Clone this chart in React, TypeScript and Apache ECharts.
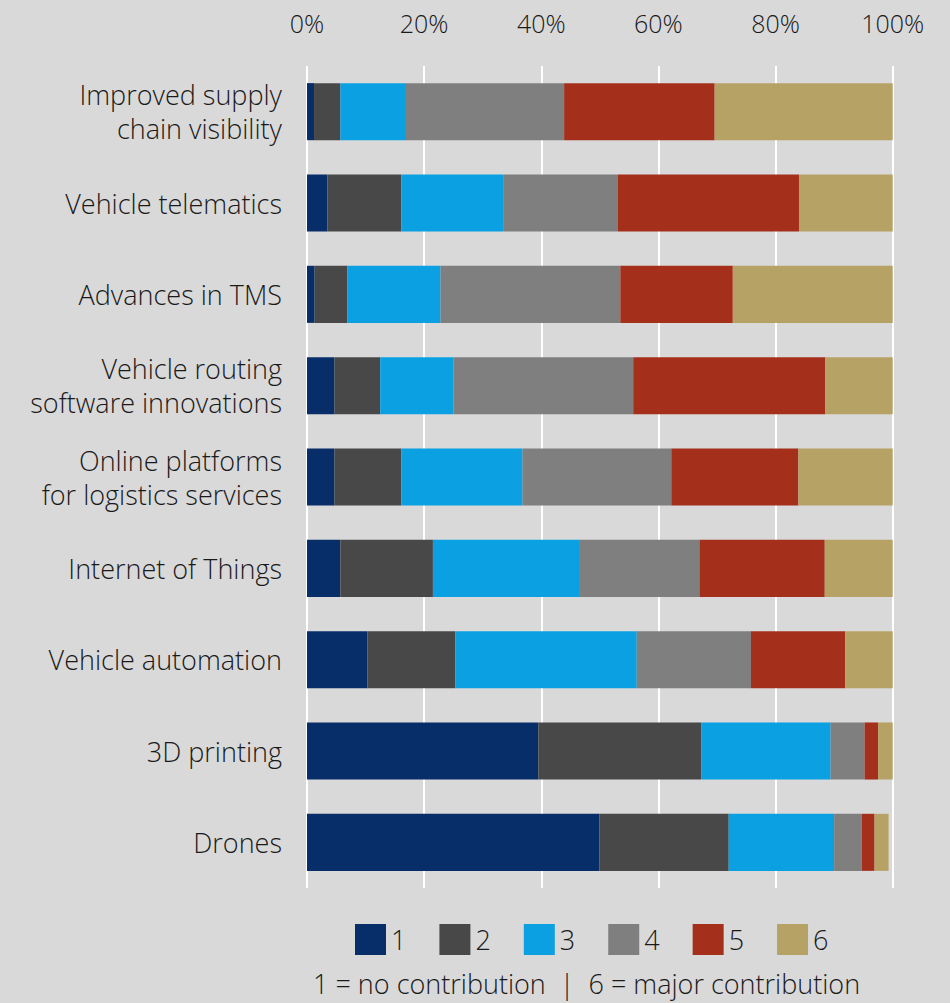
import React, { useEffect, useRef } from "react";
import * as echarts from "echarts";

const categories = [
  "Improved supply\nchain visibility",
  "Vehicle telematics",
  "Advances in TMS",
  "Vehicle routing\nsoftware innovations",
  "Online platforms\nfor logistics services",
  "Internet of Things",
  "Vehicle automation",
  "3D printing",
  "Drones",
];

const seriesNames = ["1", "2", "3", "4", "5", "6"];
const colors = ["#082e69", "#484848", "#0ba0e2", "#7f7f7f", "#a4301b", "#b7a265"];

const s1 = [1.2, 3.5, 1.3, 4.7, 4.7, 5.7, 10.3, 39.5, 49.9];
const s2 = [4.5, 12.6, 5.6, 7.8, 11.4, 15.8, 15.0, 27.8, 22.1];
const s3 = [11.2, 17.5, 15.9, 12.5, 20.7, 25.1, 31.0, 22.1, 18.0];
const s4 = [27.0, 19.5, 30.7, 30.7, 25.4, 20.4, 19.5, 5.8, 4.7];
const s5 = [25.7, 30.9, 19.2, 32.8, 21.7, 21.4, 16.1, 2.3, 2.2];
const s6 = [30.4, 16.0, 27.3, 11.5, 16.1, 11.6, 8.1, 2.5, 2.4];
const seriesData = [s1, s2, s3, s4, s5, s6];

const subtitle = "1 = no contribution  |  6 = major contribution";

const FONT = "'Open Sans', sans-serif";

export default function App() {
  const ref = useRef<HTMLDivElement>(null);
  useEffect(() => {
    if (!ref.current) return;
    const chart = echarts.init(ref.current, undefined, { renderer: "svg" });
    chart.setOption({
      animation: false,
      backgroundColor: "#d9d9d9",
      textStyle: { fontFamily: FONT, fontWeight: 300 },
      grid: { left: 307, right: 57.3, top: 66, bottom: 1003 - 888 },
      xAxis: {
        type: "value",
        position: "top",
        min: 0,
        max: 100,
        interval: 20,
        axisLabel: {
          formatter: "{value}%",
          fontSize: 25,
          color: "#1a1a1a",
          fontFamily: FONT,
          fontWeight: 300,
          margin: 31,
        },
        axisLine: { show: false },
        axisTick: { show: false },
        splitLine: { show: true, lineStyle: { color: "#ffffff", width: 2 } },
      },
      yAxis: {
        type: "category",
        inverse: true,
        data: categories,
        axisLabel: {
          fontSize: 27,
          color: "#1a1a1a",
          fontFamily: FONT,
          fontWeight: 300,
          margin: 25,
          lineHeight: 34,
          align: "right",
        },
        axisLine: { show: false },
        axisTick: { show: false },
        splitLine: { show: false },
      },
      legend: {
        left: 350,
        top: 919,
        itemWidth: 31,
        itemHeight: 31,
        itemGap: 33,
        icon: "rect",
        data: seriesNames,
        textStyle: { fontSize: 27, color: "#1a1a1a", fontFamily: FONT, fontWeight: 300, padding: [0, 0, 0, 0] },
      },
      graphic: [
        {
          type: "text",
          left: 313,
          top: 970,
          style: {
            text: subtitle,
            fontSize: 27,
            fill: "#1a1a1a",
            fontFamily: FONT,
            fontWeight: 300,
          },
        },
      ],
      series: seriesNames.map((name, i) => ({
        name,
        type: "bar",
        stack: "total",
        data: seriesData[i],
        barCategoryGap: "37.5%",
        itemStyle: { color: colors[i] },
        emphasis: { disabled: true },
      })),
    });
    return () => chart.dispose();
  }, []);
  return <div ref={ref} style={{ width: 950, height: 1003, position: "absolute", left: 0, top: 0 }} />;
}
